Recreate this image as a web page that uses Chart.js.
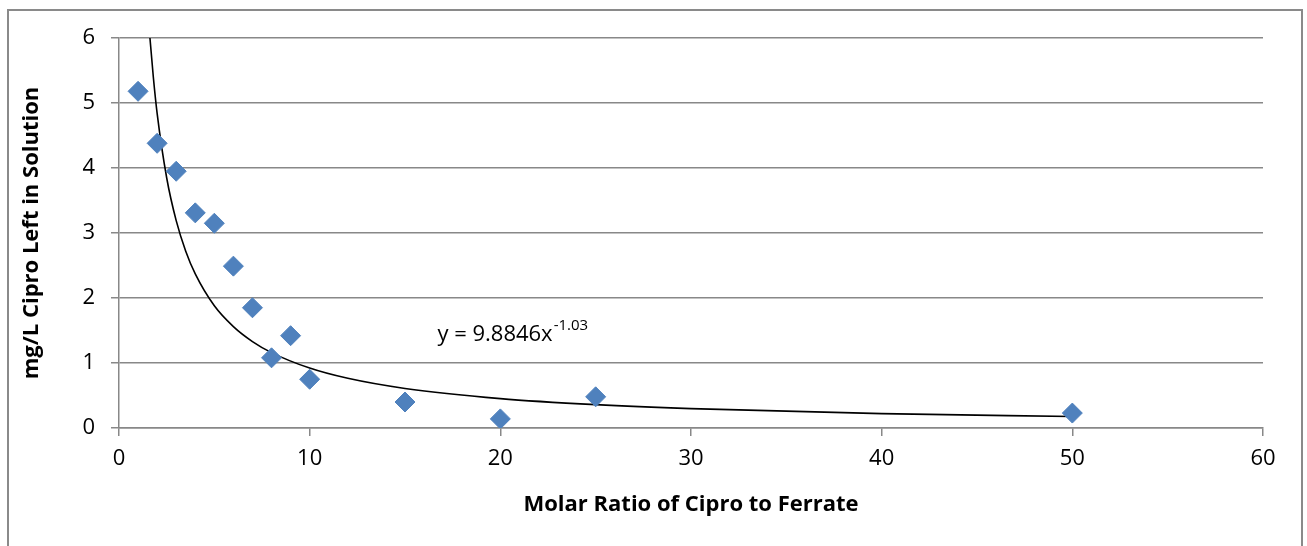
<!DOCTYPE html>
<html>
<head>
<meta charset="utf-8">
<script src="https://cdn.jsdelivr.net/npm/chart.js@4"></script>
<style>
  html, body { margin: 0; padding: 0; background: #fff; }
  #wrap { position: relative; width: 1307px; height: 546px; overflow: hidden; }
  #frame {
    position: absolute; left: 7px; top: 9px; width: 1296px; height: 560px;
    border: 2px solid #8a8a8a; box-sizing: border-box;
  }
  canvas { position: absolute; left: 0; top: 0; }
</style>
</head>
<body>
<div id="wrap">
  <div id="frame"></div>
  <canvas id="chart" width="1307" height="546"></canvas>
</div>
<script>
// measured points (molar ratio vs mg/L left)
const ratios = [1, 2, 3, 4, 5, 6, 7, 8, 9, 10, 15, 20, 25, 50];
const ciproLeft = [5.18, 4.38, 3.95, 3.31, 3.15, 2.49, 1.85, 1.08, 1.42, 0.75, 0.40, 0.14, 0.48, 0.23];

// power trendline
const trendX = [1.55, 1.62, 1.8, 2, 2.5, 3, 3.5, 4, 5, 6, 7, 8, 10, 12, 15, 20, 25, 30, 40, 50];
const trendY = [6.29, 6.01, 5.40, 4.84, 3.85, 3.19, 2.72, 2.37, 1.88, 1.56, 1.33, 1.16, 0.922, 0.764, 0.608, 0.452, 0.359, 0.298, 0.221, 0.176];

const equationText = "y = 9.8846x";
const equationPower = "-1.03";
const equationAt = { x: 16.7, y: 1.43 };

const xTicks = [0, 10, 20, 30, 40, 50, 60];
const yTicks = [0, 1, 2, 3, 4, 5, 6];

const FONT = "'Open Sans', Lato, sans-serif";
const GRID = "#888888";

// draws the trendline equation with a superscript exponent
const equationLabel = {
  id: "equationLabel",
  afterDatasetsDraw(chart) {
    const ctx = chart.ctx;
    const px = chart.scales.x.getPixelForValue(equationAt.x);
    const py = chart.scales.y.getPixelForValue(equationAt.y);
    ctx.save();
    ctx.fillStyle = "#000";
    ctx.textBaseline = "middle";
    ctx.font = "22px " + FONT;
    ctx.fillText(equationText, px, py);
    const w = ctx.measureText(equationText).width;
    ctx.font = "15px " + FONT;
    ctx.fillText(equationPower, px + w + 1, py - 9);
    ctx.restore();
  },
};

new Chart(document.getElementById("chart"), {
  type: "scatter",
  data: {
    datasets: [
      {
        label: "measured",
        data: ratios.map((x, i) => ({ x, y: ciproLeft[i] })),
        pointStyle: "rectRot",
        pointRadius: 10,
        pointHoverRadius: 10,
        backgroundColor: "#4f81bd",
        borderColor: "#4f81bd",
        borderWidth: 1,
        order: 1,
      },
      {
        label: "trend",
        type: "line",
        data: trendX.map((x, i) => ({ x, y: trendY[i] })),
        borderColor: "#000",
        borderWidth: 1.6,
        pointRadius: 0,
        fill: false,
        cubicInterpolationMode: "monotone",
        order: 2,
      },
    ],
  },
  options: {
    responsive: false,
    animation: false,
    layout: { padding: { left: 0, right: 44, top: 38, bottom: 0 } },
    plugins: { legend: { display: false }, tooltip: { enabled: false } },
    scales: {
      x: {
        type: "linear",
        min: 0,
        max: 60,
        afterBuildTicks: (s) => { s.ticks = xTicks.map((v) => ({ value: v })); },
        afterFit: (s) => { s.height = 118; },
        grid: { drawOnChartArea: false, drawTicks: true, tickLength: 8, color: GRID, lineWidth: 1.5 },
        border: { display: true, color: GRID, width: 1.5 },
        ticks: { color: "#000", font: { family: FONT, size: 22 }, padding: 10, maxRotation: 0 },
        title: {
          display: true,
          text: "Molar Ratio of Cipro to Ferrate",
          color: "#000",
          font: { family: FONT, size: 22, weight: "bold" },
          padding: { top: 0, bottom: 28 },
        },
      },
      y: {
        type: "linear",
        min: 0,
        max: 6,
        afterBuildTicks: (s) => { s.ticks = yTicks.map((v) => ({ value: v })); },
        afterFit: (s) => { s.width = 119; },
        grid: { drawOnChartArea: true, drawTicks: true, tickLength: 8, color: GRID, lineWidth: 1.5 },
        border: { display: true, color: GRID, width: 1.5 },
        ticks: { color: "#000", font: { family: FONT, size: 22 }, padding: 16 },
        title: {
          display: true,
          text: "mg/L Cipro Left in Solution",
          color: "#000",
          font: { family: FONT, size: 22, weight: "bold" },
          padding: { top: 19, bottom: 0 },
        },
      },
    },
  },
  plugins: [equationLabel],
});
</script>
</body>
</html>
